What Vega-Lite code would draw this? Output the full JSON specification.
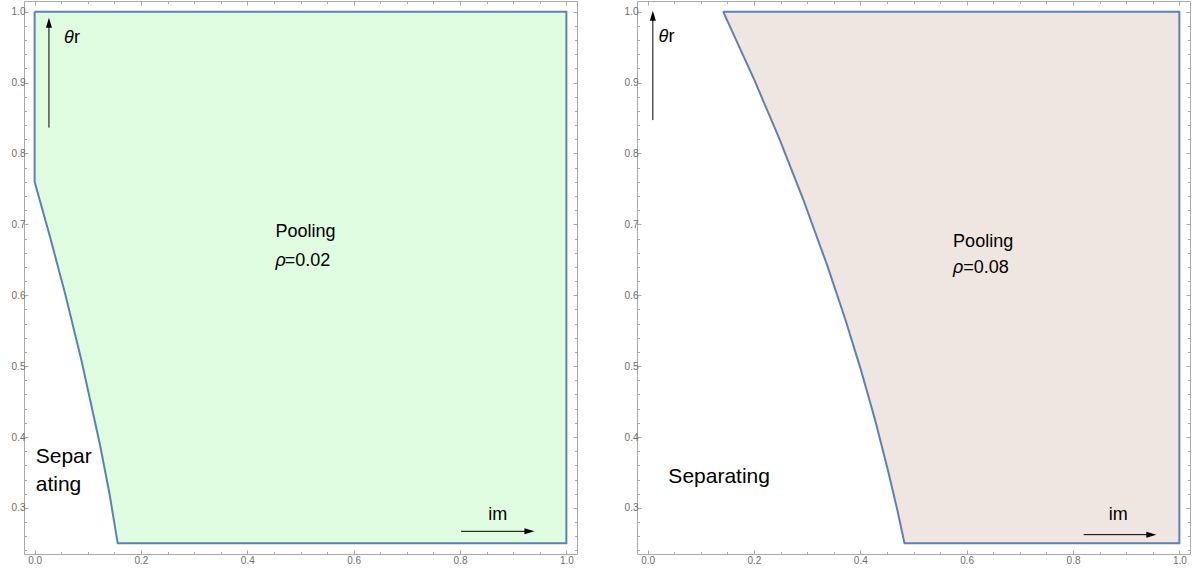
{
  "$schema": "https://vega.github.io/schema/vega-lite/v6.json",
  "padding": {"left": 10, "top": 0, "right": 0, "bottom": 0},
  "spacing": 45,
  "config": {
    "view": {"stroke": "#aaaaaa", "strokeWidth": 1},
    "axis": {"domain": false, "grid": false, "title": null, "labelFont": "Liberation Sans", "labelFontSize": 10, "labelColor": "#6e6e6e", "tickColor": "#a8a8a8", "tickWidth": 1},
    "text": {"font": "Liberation Sans", "color": "black"}
  },
  "hconcat": [
    {
      "width": 553,
      "height": 553,
      "resolve": {"axis": {"x": "independent", "y": "independent"}},
      "layer": [
        {
          "data": {"values": [
            {"i": 0, "x": 0, "y": 1},
            {"i": 1, "x": 1, "y": 1},
            {"i": 2, "x": 1, "y": 0.25},
            {"i": 3, "x": 0.1562, "y": 0.25},
            {"i": 4, "x": 0.1409, "y": 0.3196},
            {"i": 5, "x": 0.1226, "y": 0.3901},
            {"i": 6, "x": 0.0882, "y": 0.5075},
            {"i": 7, "x": 0.0575, "y": 0.6016},
            {"i": 8, "x": 0.0293, "y": 0.6814},
            {"i": 9, "x": 0, "y": 0.7599},
            {"i": 10, "x": 0, "y": 1}
          ]},
          "mark": {"type": "line", "fill": "#E0FCE0", "stroke": "#5E81B5", "strokeWidth": 2, "strokeJoin": "miter"},
          "encoding": {
            "x": {"field": "x", "type": "quantitative", "scale": {"domain": [-0.02, 1.02], "nice": false, "zero": false},
                  "axis": {"orient": "bottom", "values": [0, 0.2, 0.4, 0.6, 0.8, 1], "format": ".1f", "tickSize": -4, "labelPadding": 5}},
            "y": {"field": "y", "type": "quantitative", "scale": {"domain": [0.235, 1.015], "nice": false, "zero": false},
                  "axis": {"orient": "left", "values": [0.3, 0.4, 0.5, 0.6, 0.7, 0.8, 0.9, 1.0], "format": ".1f", "tickSize": -4, "labelPadding": 3}},
            "order": {"field": "i", "type": "quantitative"}
          }
        },
        {
          "data": {"values": [
            {"x": 0.0269, "y": 0.8365, "x2": 0.0269, "y2": 0.985},
            {"x": 0.802, "y": 0.267, "x2": 0.93, "y2": 0.267}
          ]},
          "mark": {"type": "rule", "color": "black", "strokeWidth": 1},
          "encoding": {
            "x": {"field": "x", "type": "quantitative", "scale": {"domain": [-0.02, 1.02], "nice": false, "zero": false},
                  "axis": {"orient": "bottom", "values": [0.05, 0.1, 0.15, 0.25, 0.3, 0.35, 0.45, 0.5, 0.55, 0.65, 0.7, 0.75, 0.85, 0.9, 0.95], "labels": false, "tickSize": -2.5}},
            "y": {"field": "y", "type": "quantitative", "scale": {"domain": [0.235, 1.015], "nice": false, "zero": false},
                  "axis": {"orient": "left", "values": [0.24, 0.26, 0.28, 0.32, 0.34, 0.36, 0.38, 0.42, 0.44, 0.46, 0.48, 0.52, 0.54, 0.56, 0.58, 0.62, 0.64, 0.66, 0.68, 0.72, 0.74, 0.76, 0.78, 0.82, 0.84, 0.86, 0.88, 0.92, 0.94, 0.96, 0.98], "labels": false, "tickSize": -2.5}},
            "x2": {"field": "x2"},
            "y2": {"field": "y2"}
          }
        },
        {
          "data": {"values": [{"x": 0.0269, "y": 0.9915}]},
          "mark": {"type": "point", "shape": "M0,0L0.3,1L-0.3,1Z", "size": 400, "filled": true, "color": "black", "opacity": 1},
          "encoding": {
            "x": {"field": "x", "type": "quantitative", "scale": {"domain": [-0.02, 1.02], "nice": false, "zero": false},
                  "axis": {"orient": "top", "values": [0, 0.2, 0.4, 0.6, 0.8, 1], "labels": false, "tickSize": -4}},
            "y": {"field": "y", "type": "quantitative", "scale": {"domain": [0.235, 1.015], "nice": false, "zero": false},
                  "axis": {"orient": "right", "values": [0.3, 0.4, 0.5, 0.6, 0.7, 0.8, 0.9, 1.0], "labels": false, "tickSize": -4}}
          }
        },
        {
          "data": {"values": [{"x": 0.94, "y": 0.267}]},
          "mark": {"type": "point", "shape": "M0,0L-1,-0.3L-1,0.3Z", "size": 400, "filled": true, "color": "black", "opacity": 1},
          "encoding": {
            "x": {"field": "x", "type": "quantitative", "scale": {"domain": [-0.02, 1.02], "nice": false, "zero": false},
                  "axis": {"orient": "top", "values": [0.05, 0.1, 0.15, 0.25, 0.3, 0.35, 0.45, 0.5, 0.55, 0.65, 0.7, 0.75, 0.85, 0.9, 0.95], "labels": false, "tickSize": -2.5}},
            "y": {"field": "y", "type": "quantitative", "scale": {"domain": [0.235, 1.015], "nice": false, "zero": false},
                  "axis": {"orient": "right", "values": [0.24, 0.26, 0.28, 0.32, 0.34, 0.36, 0.38, 0.42, 0.44, 0.46, 0.48, 0.52, 0.54, 0.56, 0.58, 0.62, 0.64, 0.66, 0.68, 0.72, 0.74, 0.76, 0.78, 0.82, 0.84, 0.86, 0.88, 0.92, 0.94, 0.96, 0.98], "labels": false, "tickSize": -2.5}}
          }
        },
        {
          "data": {"values": [
            {"x": 0.453, "y": 0.6824, "label": "Pooling"},
            {"x": 0.4705, "y": 0.6415, "label": "=0.02"},
            {"x": 0.0739, "y": 0.956, "label": "r"},
            {"x": 0.853, "y": 0.2834, "label": "im"}
          ]},
          "mark": {"type": "text", "align": "left", "baseline": "alphabetic", "fontSize": 18},
          "encoding": {
            "x": {"field": "x", "type": "quantitative", "scale": {"domain": [-0.02, 1.02], "nice": false, "zero": false}, "axis": null},
            "y": {"field": "y", "type": "quantitative", "scale": {"domain": [0.235, 1.015], "nice": false, "zero": false}, "axis": null},
            "text": {"field": "label"}
          }
        },
        {
          "data": {"values": [
            {"x": 0.055, "y": 0.956, "label": "θ"},
            {"x": 0.453, "y": 0.6415, "label": "ρ"}
          ]},
          "mark": {"type": "text", "align": "left", "baseline": "alphabetic", "fontSize": 18, "fontStyle": "italic"},
          "encoding": {
            "x": {"field": "x", "type": "quantitative", "scale": {"domain": [-0.02, 1.02], "nice": false, "zero": false}, "axis": null},
            "y": {"field": "y", "type": "quantitative", "scale": {"domain": [0.235, 1.015], "nice": false, "zero": false}, "axis": null},
            "text": {"field": "label"}
          }
        },
        {
          "data": {"values": [
            {"x": 0.002, "y": 0.3627, "label": "Separ"},
            {"x": 0.002, "y": 0.3243, "label": "ating"}
          ]},
          "mark": {"type": "text", "align": "left", "baseline": "alphabetic", "fontSize": 21},
          "encoding": {
            "x": {"field": "x", "type": "quantitative", "scale": {"domain": [-0.02, 1.02], "nice": false, "zero": false}, "axis": null},
            "y": {"field": "y", "type": "quantitative", "scale": {"domain": [0.235, 1.015], "nice": false, "zero": false}, "axis": null},
            "text": {"field": "label"}
          }
        }
      ]
    },
    {
      "width": 553,
      "height": 553,
      "resolve": {"axis": {"x": "independent", "y": "independent"}},
      "layer": [
        {
          "data": {"values": [
            {"i": 0, "x": 0.142, "y": 1},
            {"i": 1, "x": 1, "y": 1},
            {"i": 2, "x": 1, "y": 0.25},
            {"i": 3, "x": 0.4831, "y": 0.25},
            {"i": 4, "x": 0.4697, "y": 0.2966},
            {"i": 5, "x": 0.4519, "y": 0.353},
            {"i": 6, "x": 0.4278, "y": 0.4239},
            {"i": 7, "x": 0.4011, "y": 0.4947},
            {"i": 8, "x": 0.372, "y": 0.5654},
            {"i": 9, "x": 0.3384, "y": 0.6406},
            {"i": 10, "x": 0.2927, "y": 0.735},
            {"i": 11, "x": 0.2482, "y": 0.8199},
            {"i": 12, "x": 0.2, "y": 0.9048},
            {"i": 13, "x": 0.142, "y": 1}
          ]},
          "mark": {"type": "line", "fill": "#EFE6E1", "stroke": "#5E81B5", "strokeWidth": 2, "strokeJoin": "miter"},
          "encoding": {
            "x": {"field": "x", "type": "quantitative", "scale": {"domain": [-0.02, 1.02], "nice": false, "zero": false},
                  "axis": {"orient": "bottom", "values": [0, 0.2, 0.4, 0.6, 0.8, 1], "format": ".1f", "tickSize": -4, "labelPadding": 5}},
            "y": {"field": "y", "type": "quantitative", "scale": {"domain": [0.235, 1.015], "nice": false, "zero": false},
                  "axis": {"orient": "left", "values": [0.3, 0.4, 0.5, 0.6, 0.7, 0.8, 0.9, 1.0], "format": ".1f", "tickSize": -4, "labelPadding": 3}},
            "order": {"field": "i", "type": "quantitative"}
          }
        },
        {
          "data": {"values": [
            {"x": 0.0098, "y": 0.847, "x2": 0.0098, "y2": 0.99},
            {"x": 0.82, "y": 0.2623, "x2": 0.945, "y2": 0.2623}
          ]},
          "mark": {"type": "rule", "color": "black", "strokeWidth": 1},
          "encoding": {
            "x": {"field": "x", "type": "quantitative", "scale": {"domain": [-0.02, 1.02], "nice": false, "zero": false},
                  "axis": {"orient": "bottom", "values": [0.05, 0.1, 0.15, 0.25, 0.3, 0.35, 0.45, 0.5, 0.55, 0.65, 0.7, 0.75, 0.85, 0.9, 0.95], "labels": false, "tickSize": -2.5}},
            "y": {"field": "y", "type": "quantitative", "scale": {"domain": [0.235, 1.015], "nice": false, "zero": false},
                  "axis": {"orient": "left", "values": [0.24, 0.26, 0.28, 0.32, 0.34, 0.36, 0.38, 0.42, 0.44, 0.46, 0.48, 0.52, 0.54, 0.56, 0.58, 0.62, 0.64, 0.66, 0.68, 0.72, 0.74, 0.76, 0.78, 0.82, 0.84, 0.86, 0.88, 0.92, 0.94, 0.96, 0.98], "labels": false, "tickSize": -2.5}},
            "x2": {"field": "x2"},
            "y2": {"field": "y2"}
          }
        },
        {
          "data": {"values": [{"x": 0.0098, "y": 1.0014}]},
          "mark": {"type": "point", "shape": "M0,0L0.3,1L-0.3,1Z", "size": 400, "filled": true, "color": "black", "opacity": 1},
          "encoding": {
            "x": {"field": "x", "type": "quantitative", "scale": {"domain": [-0.02, 1.02], "nice": false, "zero": false},
                  "axis": {"orient": "top", "values": [0, 0.2, 0.4, 0.6, 0.8, 1], "labels": false, "tickSize": -4}},
            "y": {"field": "y", "type": "quantitative", "scale": {"domain": [0.235, 1.015], "nice": false, "zero": false},
                  "axis": {"orient": "right", "values": [0.3, 0.4, 0.5, 0.6, 0.7, 0.8, 0.9, 1.0], "labels": false, "tickSize": -4}}
          }
        },
        {
          "data": {"values": [{"x": 0.9566, "y": 0.2623}]},
          "mark": {"type": "point", "shape": "M0,0L-1,-0.3L-1,0.3Z", "size": 400, "filled": true, "color": "black", "opacity": 1},
          "encoding": {
            "x": {"field": "x", "type": "quantitative", "scale": {"domain": [-0.02, 1.02], "nice": false, "zero": false},
                  "axis": {"orient": "top", "values": [0.05, 0.1, 0.15, 0.25, 0.3, 0.35, 0.45, 0.5, 0.55, 0.65, 0.7, 0.75, 0.85, 0.9, 0.95], "labels": false, "tickSize": -2.5}},
            "y": {"field": "y", "type": "quantitative", "scale": {"domain": [0.235, 1.015], "nice": false, "zero": false},
                  "axis": {"orient": "right", "values": [0.24, 0.26, 0.28, 0.32, 0.34, 0.36, 0.38, 0.42, 0.44, 0.46, 0.48, 0.52, 0.54, 0.56, 0.58, 0.62, 0.64, 0.66, 0.68, 0.72, 0.74, 0.76, 0.78, 0.82, 0.84, 0.86, 0.88, 0.92, 0.94, 0.96, 0.98], "labels": false, "tickSize": -2.5}}
          }
        },
        {
          "data": {"values": [
            {"x": 0.5745, "y": 0.668, "label": "Pooling"},
            {"x": 0.5934, "y": 0.6312, "label": "=0.08"},
            {"x": 0.0393, "y": 0.9575, "label": "r"},
            {"x": 0.867, "y": 0.283, "label": "im"}
          ]},
          "mark": {"type": "text", "align": "left", "baseline": "alphabetic", "fontSize": 18},
          "encoding": {
            "x": {"field": "x", "type": "quantitative", "scale": {"domain": [-0.02, 1.02], "nice": false, "zero": false}, "axis": null},
            "y": {"field": "y", "type": "quantitative", "scale": {"domain": [0.235, 1.015], "nice": false, "zero": false}, "axis": null},
            "text": {"field": "label"}
          }
        },
        {
          "data": {"values": [
            {"x": 0.0204, "y": 0.9575, "label": "θ"},
            {"x": 0.5745, "y": 0.6312, "label": "ρ"}
          ]},
          "mark": {"type": "text", "align": "left", "baseline": "alphabetic", "fontSize": 18, "fontStyle": "italic"},
          "encoding": {
            "x": {"field": "x", "type": "quantitative", "scale": {"domain": [-0.02, 1.02], "nice": false, "zero": false}, "axis": null},
            "y": {"field": "y", "type": "quantitative", "scale": {"domain": [0.235, 1.015], "nice": false, "zero": false}, "axis": null},
            "text": {"field": "label"}
          }
        },
        {
          "data": {"values": [
            {"x": 0.039, "y": 0.335, "label": "Separating"}
          ]},
          "mark": {"type": "text", "align": "left", "baseline": "alphabetic", "fontSize": 21},
          "encoding": {
            "x": {"field": "x", "type": "quantitative", "scale": {"domain": [-0.02, 1.02], "nice": false, "zero": false}, "axis": null},
            "y": {"field": "y", "type": "quantitative", "scale": {"domain": [0.235, 1.015], "nice": false, "zero": false}, "axis": null},
            "text": {"field": "label"}
          }
        }
      ]
    }
  ]
}
